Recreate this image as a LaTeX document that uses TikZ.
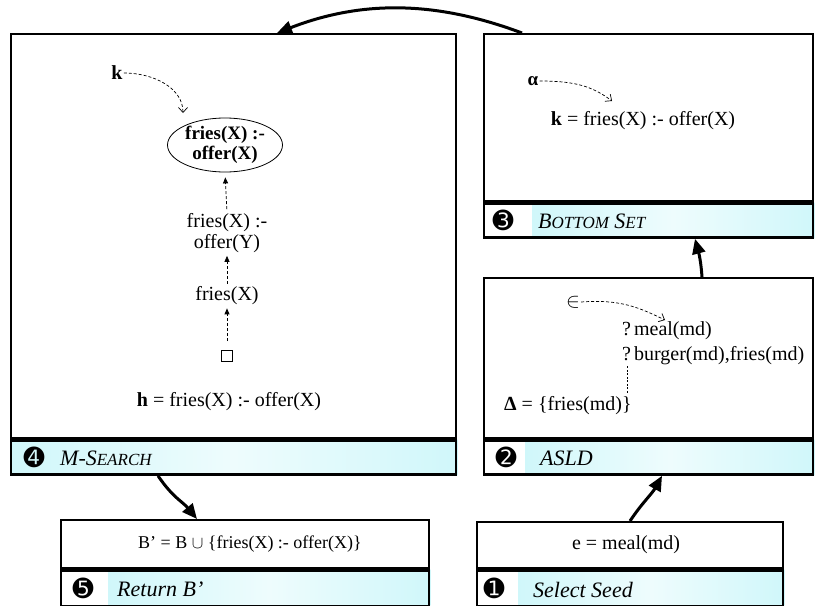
\documentclass[tikz,border=0pt]{standalone}
\usepackage{fontspec}
\setmainfont{Liberation Serif}
\newfontfamily\dingfont{DejaVu Sans}
\usepackage{xcolor}
\usetikzlibrary{arrows.meta,positioning,backgrounds,calc,shapes.geometric}
\definecolor{hdrcyan}{RGB}{208,247,250}
\definecolor{hdrlight}{RGB}{238,252,253}
\newcommand\smallcap[1]{{\fontsize{17}{17}\selectfont #1}}
\tikzset{
  stepbox/.style={rectangle, draw=black, line width=2.4pt, inner sep=0pt, anchor=north west},
  hdr/.style={rectangle, draw=black, line width=2.4pt, inner sep=0pt, anchor=north west,
    minimum height=34pt},
  hdrshade/.style={left color=hdrcyan, right color=hdrcyan, middle color=hdrlight},
  num/.style={font=\dingfont\fontsize{25}{25}\selectfont, inner sep=0pt},
  ttl/.style={font=\itshape\fontsize{22}{24}\selectfont, anchor=west, inner sep=0pt},
  txt/.style={font=\fontsize{20}{21}\selectfont, align=center, inner sep=1pt},
  bigarr/.style={-{Triangle[length=15pt, width=13pt]}, line width=3pt},
  chainarr/.style={-{Triangle[length=6pt, width=5pt]}, dash pattern=on 3pt off 2pt, line width=0.8pt},
  hintarr/.style={-{Straight Barb[length=5pt, width=9pt]}, dash pattern=on 3pt off 2pt, line width=0.7pt},
}

\begin{document}
\begin{tikzpicture}[x=1pt, y=-1pt]
  \useasboundingbox (0,0) rectangle (818,605);
  % step boxes
  \node[stepbox, minimum width=445pt, minimum height=404pt] (b4) at (10,33) {};
  \node[hdr, minimum width=445pt] (h4) at (b4.south west) {};
  \node[stepbox, minimum width=329pt, minimum height=167pt] (b3) at (483,33) {};
  \node[hdr, minimum width=329pt] (h3) at (b3.south west) {};
  \node[stepbox, minimum width=329pt, minimum height=160pt] (b2) at (483,277) {};
  \node[hdr, minimum width=329pt] (h2) at (b2.south west) {};
  \node[stepbox, minimum width=306pt, minimum height=46pt] (b1) at (476,521) {};
  \node[hdr, minimum width=306pt, minimum height=36pt] (h1) at (b1.south west) {};
  \node[stepbox, minimum width=368pt, minimum height=48pt] (b5) at (60,519) {};
  \node[hdr, minimum width=368pt, minimum height=36pt] (h5) at (b5.south west) {};
  \begin{scope}[on background layer]
    \shade[hdrshade] (h4.north west) rectangle (h4.south east);
    \shade[hdrshade] ($(h3.north west)+(49,0)$) rectangle (h3.south east);
    \shade[hdrshade] ($(h2.north west)+(42,0)$) rectangle (h2.south east);
    \shade[hdrshade] ($(h1.north west)+(42,0)$) rectangle (h1.south east);
    \shade[hdrshade] ($(h5.north west)+(48,0)$) rectangle (h5.south east);
  \end{scope}
  % headers
  \node[num] (n4) at ($(h4.west)+(24,0)$) {➍};
  \node[ttl] (t4) at ($(h4.west)+(50,1)$) {M-S\smallcap{EARCH}};
  \node[num] (n3) at ($(h3.west)+(20,0)$) {➌};
  \node[ttl] (t3) at ($(h3.west)+(55,1)$) {B\smallcap{OTTOM} S\smallcap{ET}};
  \node[num] (n2) at ($(h2.west)+(23,0)$) {➋};
  \node[ttl] (t2) at ($(h2.west)+(57,1)$) {ASLD};
  \node[num] (n1) at ($(h1.west)+(18,0)$) {➊};
  \node[ttl] (t1) at ($(h1.west)+(57,1)$) {Select Seed};
  \node[num] (n5) at ($(h5.west)+(23,0)$) {➎};
  \node[ttl] (t5) at ($(h5.west)+(57,1)$) {Return B’};
  % M-search contents
  \node[txt, font=\bfseries\fontsize{20}{21}\selectfont] (kvar) at (117,73) {k};
  \node[ellipse, draw, line width=0.8pt, minimum width=115pt, minimum height=54pt, inner sep=0pt,
    align=center, font=\bfseries\fontsize{19}{20}\selectfont] (goal) at (225,145) {fries(X) :-\\offer(X)};
  \coordinate (ktip) at (183,113);
  \draw[hintarr] (kvar.east) .. controls +(30,0) and +(0,-25) .. (ktip);
  \node[txt] (spec) at (227,233) {fries(X) :-\\offer(Y)};
  \node[txt] (gen) at (227,296) {fries(X)};
  \node[draw, line width=0.7pt, minimum size=11pt, inner sep=0pt] (empty) at (227,356) {};
  \draw[chainarr, shorten <=3pt, shorten >=5pt] (spec.north) -- (goal.south);
  \draw[chainarr, shorten <=2pt, shorten >=2pt] (gen.north) -- (spec.south);
  \draw[chainarr, shorten <=9pt, shorten >=2pt] (empty.north) -- (gen.south);
  \node[txt] (hdef) at (229,402) {\textbf{h} = fries(X) :- offer(X)};
  % bottom set contents
  \node[txt, font=\bfseries\fontsize{19}{21}\selectfont] (alpha) at (533,81) {α};
  \node[txt] (kdef) at (643,121) {\textbf{k} = fries(X) :- offer(X)};
  \coordinate (alphatip) at (612,101);
  \draw[hintarr] (alpha.east) .. controls +(35,0) and +(-20,-15) .. (alphatip);
  % ASLD contents
  \node[txt] (elem) at (573,302) {$\in$};
  \node[txt, anchor=west] (q1) at (621,331) {?\kern3pt meal(md)};
  \node[txt, anchor=west] (q2) at (621,356) {?\kern3pt burger(md),fries(md)};
  \node[txt, anchor=west] (delta) at (503,406) {\textbf{Δ} = \{fries(md)\}};
  \coordinate (elemtip) at (665,320);
  \draw[hintarr] (elem.east) .. controls +(40,-3) and +(-25,-12) .. (elemtip);
  \draw[dash pattern=on 2pt off 1.5pt, line width=0.7pt] ($(q2.south west)+(6,0)$) -- ++(0,28);
  % seed and result
  \node[txt] (seed) at (626,545) {e = meal(md)};
  \node[txt, font=\fontsize{18}{20}\selectfont] (res) at (250,544) {B’ = B $\cup$ \{fries(X) :- offer(X)\}};
  % flow arrows
  \draw[bigarr] ($(b1.north west)+(154,0)$) .. controls +(12,-18) and +(-10,18) .. ($(h2.south west)+(179,0)$);
  \draw[bigarr] ($(b2.north west)+(219,0)$) .. controls +(-1,-15) and +(4,15) .. ($(h3.south west)+(212,0)$);
  \draw[bigarr] ($(b3.north west)+(39,0)$) .. controls +(-80,-30) and +(90,-35) .. ($(b4.north west)+(267,0)$);
  \draw[bigarr] ($(h4.south west)+(148,0)$) .. controls +(15,22) and +(-15,-18) .. ($(b5.north west)+(137,0)$);
\end{tikzpicture}
\end{document}
